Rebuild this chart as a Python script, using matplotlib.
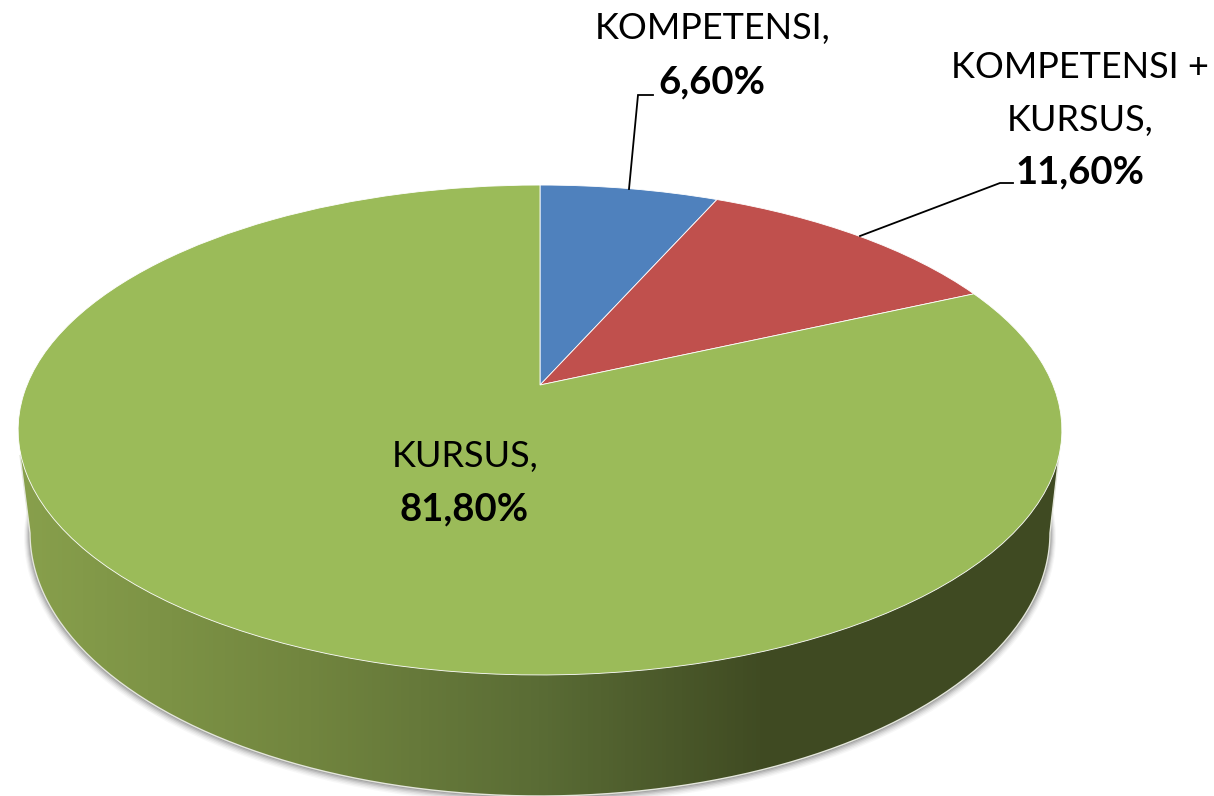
import matplotlib
matplotlib.use('Agg')
import matplotlib.pyplot as plt
from matplotlib.patches import Ellipse, PathPatch
from matplotlib.path import Path
from matplotlib.transforms import Transform
from matplotlib.colors import LinearSegmentedColormap
import numpy as np

categories = ['KOMPETENSI', 'KOMPETENSI + KURSUS', 'KURSUS']
values = [6.6, 11.6, 81.8]
value_labels = ['6,60%', '11,60%', '81,80%']
colors = ['#4f81bd', '#c0504d', '#9bbb59']

plt.rcParams['font.family'] = ['Lato', 'DejaVu Sans']


class TiltedDisk(Transform):
    # perspective view of the unit pie, output in pixels of the picture
    input_dims = 2
    output_dims = 2
    has_inverse = False

    def transform_non_affine(self, values):
        u, v = values[:, 0], values[:, 1]
        w = 1 + 0.1837 * v
        return np.column_stack((540 + 513 * u / w, 385 - 236.7 * v / w))


fig = plt.figure(figsize=(12.14, 7.96), dpi=100)
ax = fig.add_axes([0, 0, 1, 1])

wedges, _ = ax.pie(values, startangle=90, counterclock=False, colors=colors,
                   wedgeprops={'edgecolor': '#ffffff', 'linewidth': 0.6})
ax.set_aspect('auto')
ax.set_xlim(0, 1214)
ax.set_ylim(796, 0)
ax.axis('off')

disk = TiltedDisk()
for w in wedges:
    w.set_transform(disk + ax.transData)
    w.set_zorder(5)

# soft shadow below the side
for off, a in [(6, 0.04), (5, 0.06), (4, 0.08), (3, 0.11), (2, 0.15), (1, 0.2)]:
    ax.add_patch(Ellipse((540, 533 + off * 0.7), 1020 + off * 2, 526 + off * 1.4,
                         facecolor='#404040', edgecolor='none', alpha=a, zorder=1))

# side of the pie: bottom half of the lower ellipse joined to the rim
t = np.linspace(np.pi, 0, 200)
side_x = np.concatenate(([20], 540 + 510 * np.cos(t), [1059, 540, 20]))
side_y = np.concatenate(([455], 533 + 263 * np.sin(t), [455, 500, 455]))
side_path = Path(np.column_stack((side_x, side_y)))

side_cmap = LinearSegmentedColormap.from_list(
    'side', [(0, '#88a04c'), (0.27, '#72863f'), (0.5, '#5a6c35'), (0.72, '#3f4a22'), (1, '#404a23')])
im = ax.imshow(np.linspace(0, 1, 1045)[None, :], cmap=side_cmap, extent=(17, 1062, 796, 440),
               aspect='auto', zorder=2)
outline = PathPatch(side_path, facecolor='none', edgecolor='#e4e6dc', linewidth=1.0, zorder=3)
ax.add_patch(outline)
im.set_clip_path(outline)
ax.set_xlim(0, 1214)
ax.set_ylim(796, 0)

# leader lines
ax.plot([629, 638, 653], [189, 95, 95], color='black', lw=1.3, zorder=6, solid_joinstyle='miter')
ax.plot([860, 1000, 1013], [236, 183, 183], color='black', lw=1.3, zorder=6, solid_joinstyle='miter')

fs = 26
fs_bold = 27.5
ax.text(713, 28, 'KOMPETENSI,', fontsize=fs, ha='center', va='center', zorder=7)
ax.text(712, 82, value_labels[0], fontsize=fs_bold, weight='bold', ha='center', va='center', zorder=7)
ax.text(1080, 68, 'KOMPETENSI +', fontsize=fs, ha='center', va='center', zorder=7)
ax.text(1080, 120, 'KURSUS,', fontsize=fs, ha='center', va='center', zorder=7)
ax.text(1080, 172, value_labels[1], fontsize=fs_bold, weight='bold', ha='center', va='center', zorder=7)
ax.text(465, 456, 'KURSUS,', fontsize=fs, ha='center', va='center', zorder=7)
ax.text(464, 509, value_labels[2], fontsize=fs_bold, weight='bold', ha='center', va='center', zorder=7)

fig.savefig('out.png', dpi=100, facecolor='white')
